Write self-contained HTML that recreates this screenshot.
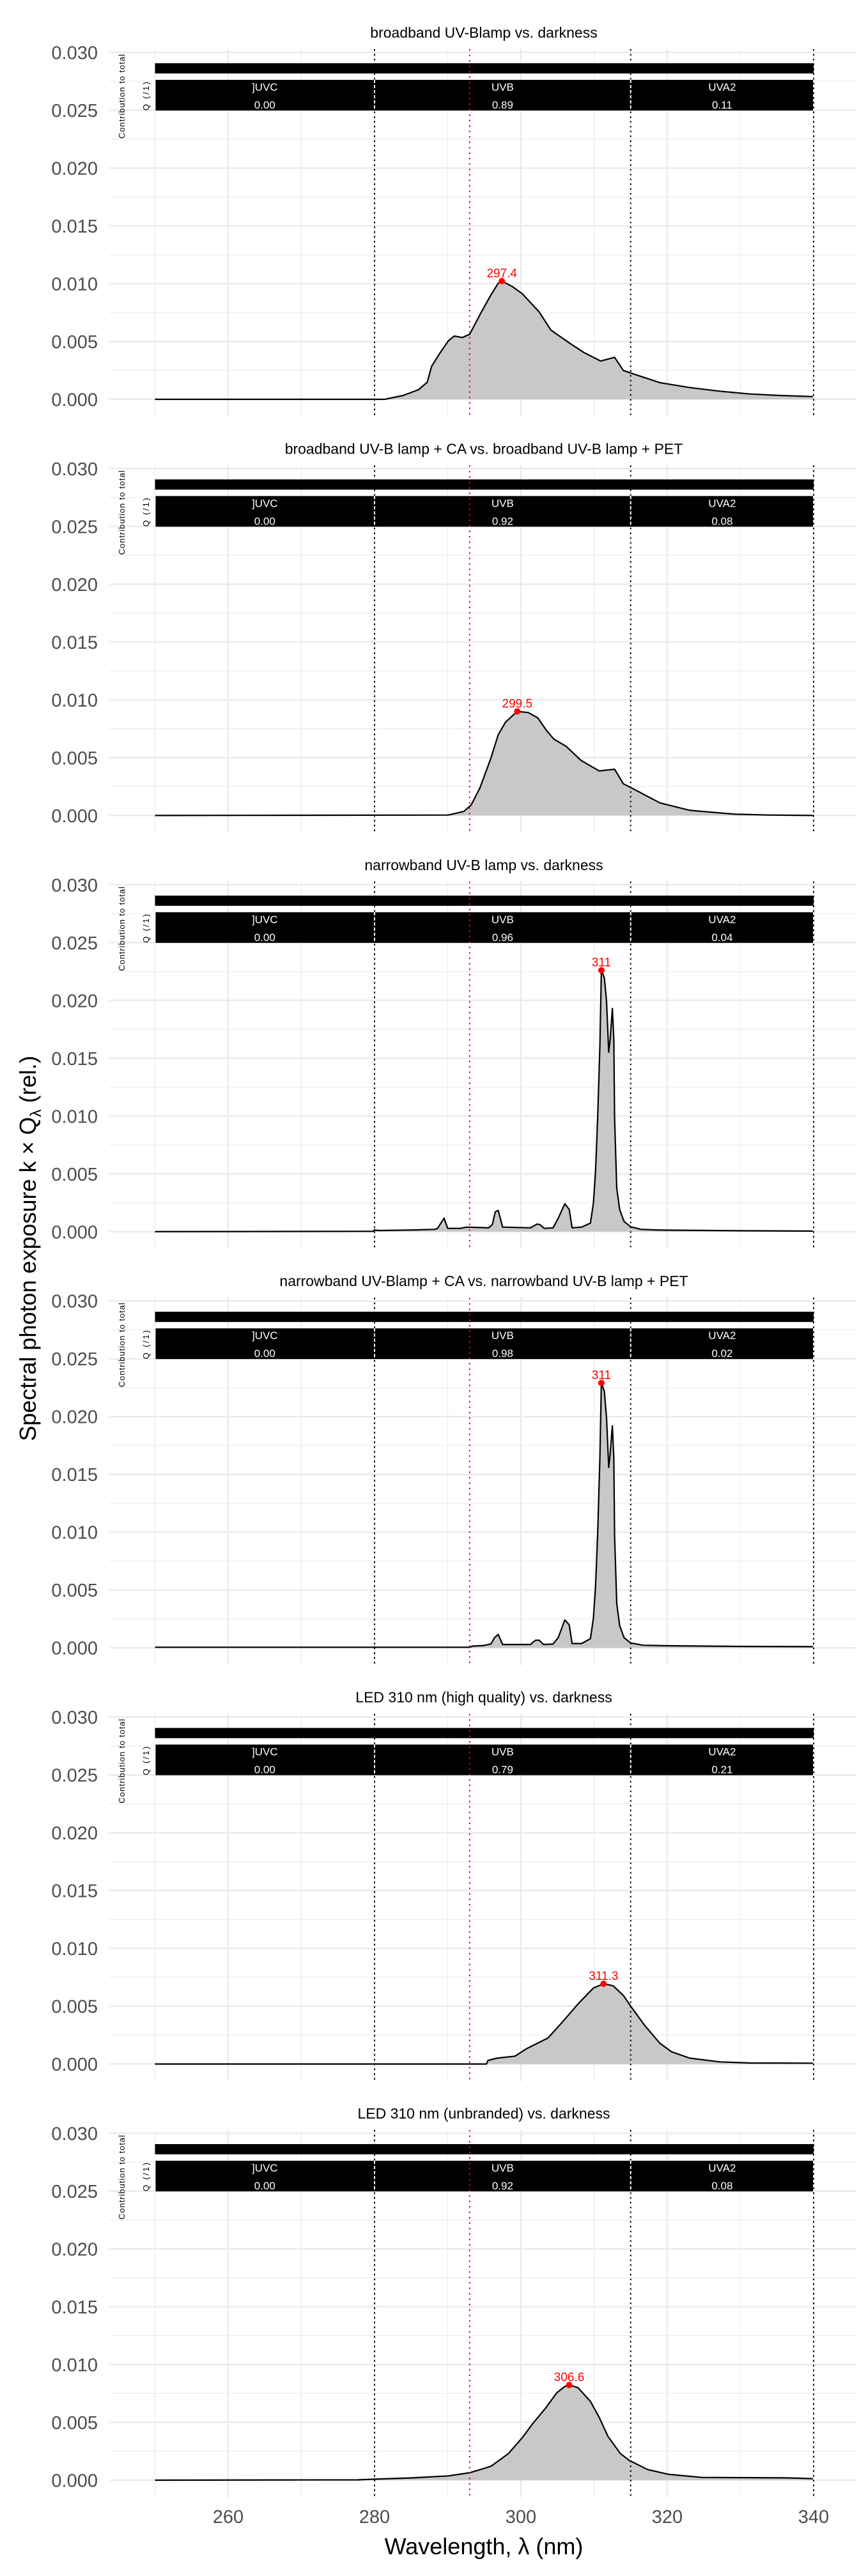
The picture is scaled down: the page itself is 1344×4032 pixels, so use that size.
<!DOCTYPE html>
<html><head><meta charset="utf-8"><style>
html,body{margin:0;padding:0;background:#fff}
svg{display:block}
text{font-family:"Liberation Sans",sans-serif}
</style></head><body>
<svg id="chart" width="1344" height="4032" viewBox="0 0 1344 4032" xmlns="http://www.w3.org/2000/svg">
<text transform="translate(56,1954) rotate(-90)" text-anchor="middle" font-size="36" fill="#000">Spectral photon exposure  k × Q<tspan font-size="24" dy="8">λ</tspan><tspan dy="-8"> (rel.)</tspan></text>
<text x="757" y="3998" text-anchor="middle" font-size="36" fill="#000">Wavelength, λ (nm)</text>
</svg>
<script>
const titles = ["broadband UV-Blamp vs. darkness","broadband UV-B lamp + CA vs. broadband UV-B lamp + PET","narrowband UV-B lamp vs. darkness","narrowband UV-Blamp + CA vs. narrowband UV-B lamp + PET","LED 310 nm (high quality) vs. darkness","LED 310 nm (unbranded) vs. darkness"];
const bandNames = ["]UVC","UVB","UVA2"];
const bandEdges = [250,280,315,340];
const fractions = [["0.00","0.89","0.11"],["0.00","0.92","0.08"],["0.00","0.96","0.04"],["0.00","0.98","0.02"],["0.00","0.79","0.21"],["0.00","0.92","0.08"]];
const peakWl = [297.4,299.5,311,311,311.3,306.6];
const peakLabels = ["297.4","299.5","311","311","311.3","306.6"];
const yTicks = [0,0.005,0.010,0.015,0.020,0.025,0.030];
const yTickLabels = ["0.000","0.005","0.010","0.015","0.020","0.025","0.030"];
const xTicks = [260,280,300,320,340];
const xMinor = [250,270,290,310,330];
const wl1 = [250,281.4,283.9,286.0,287.2,287.8,288.9,290.1,290.9,292.0,293.0,294.6,295.9,296.9,297.4,298.8,300.2,302.5,304.1,306.6,308.6,310.9,312.8,314.0,315.7,319.0,323.1,327.2,331.3,335.4,339.9];
const val1 = [0,0,0.33,0.83,1.47,2.85,3.96,5.06,5.47,5.34,5.62,7.55,9.02,10.04,10.22,9.76,9.12,7.55,5.99,4.88,4.05,3.31,3.63,2.49,2.12,1.44,1.01,0.70,0.46,0.33,0.24];
const wl2 = [250,290.1,292.2,293.2,294.4,295.9,296.9,297.9,299.5,301.0,302.3,303.5,304.5,306.2,308.2,310.7,312.8,314.0,315.7,319.0,323.1,329.3,333.8,339.9];
const val2 = [0,0.04,0.35,0.90,2.38,4.96,6.98,8.08,9.0,8.9,8.45,7.35,6.61,5.97,4.77,3.85,4.0,2.74,2.19,1.09,0.44,0.11,0.04,0];
const wl3 = [250,279.8,280,280.6,285.4,288.2,288.6,289.5,290.0,291.7,292.6,295.6,296.1,296.5,296.9,297.5,301.3,302.2,302.6,303.2,304.4,305.1,306.0,306.6,307.0,308.3,309.5,309.9,310.2,310.5,310.8,311.0,311.4,311.7,312.0,312.2,312.5,312.7,312.8,313.1,313.5,314.1,315.0,316.4,318.5,319.6,330,339.9];
const val3 = [0,0.03,0.15,0.1,0.15,0.2,0.28,1.16,0.28,0.28,0.39,0.33,0.61,1.71,1.84,0.39,0.33,0.66,0.61,0.28,0.33,1.16,2.41,1.93,0.33,0.39,0.74,2.45,5.21,10.0,16.26,22.6,21.97,19.94,15.52,16.63,19.3,16.63,9.82,3.74,1.9,0.88,0.42,0.2,0.15,0.13,0.08,0.05];
const wl4 = [250,293.0,293.4,294.9,295.9,296.4,296.9,297.5,301.3,302.0,302.5,303.1,304.4,305.1,306.0,306.6,307.0,308.3,309.5,309.9,310.2,310.5,310.8,311.0,311.4,311.7,312.0,312.2,312.5,312.7,312.8,313.1,313.5,314.1,315.0,316.7,319.6,330,339.9];
const val4 = [0.05,0.05,0.15,0.2,0.33,0.88,1.16,0.29,0.29,0.66,0.66,0.29,0.33,0.88,2.41,1.99,0.37,0.37,0.79,2.54,5.3,10.0,16.63,22.9,22.2,19.9,15.6,16.8,19.2,16.4,9.7,3.83,1.9,0.88,0.42,0.22,0.18,0.12,0.1];
const wl5 = [250,295.3,295.5,296.7,299.2,300.8,303.7,305.8,307.8,309.9,311.3,312.6,314.0,315.2,316.9,319.0,320.6,323.1,327.2,331.3,339.9];
const val5 = [0,0,0.31,0.5,0.68,1.33,2.25,3.72,5.19,6.57,6.94,6.76,5.93,4.83,3.35,1.79,1.05,0.5,0.18,0.09,0.07];
const wl6 = [250,277.7,280,285.2,290.1,293.0,295.9,298.3,300.2,301.6,303.3,304.9,306.0,306.6,307.8,309.5,310.7,311.9,313.6,314.8,317.3,320.2,324.7,336.3,339.9];
const val6 = [0,0.03,0.09,0.2,0.37,0.64,1.2,2.3,3.68,4.88,6.17,7.55,8.1,8.23,8.0,6.81,5.43,3.78,2.3,1.71,0.92,0.5,0.24,0.2,0.13];
const wls = [wl1,wl2,wl3,wl4,wl5,wl6];
const vals = [val1,val2,val3,val4,val5,val6];

const svg = document.getElementById('chart');
const NS = 'http://www.w3.org/2000/svg';
const PANEL_H = 651.4;
function xs(l){ return 357 + (l - 260) * 11.45; }
function mk(tag, attrs, parent){
  const e = document.createElementNS(NS, tag);
  for (const k in attrs) e.setAttribute(k, attrs[k]);
  (parent || svg).appendChild(e);
  return e;
}
for (let p = 0; p < 6; p++) {
  const T = p * PANEL_H;
  const ys = v => 625 + T - v * 18100;
  const g = mk('g', {});
  
  
  const top = 77 + T, bot = 652 + T;
  // grid
  for (let i = 0; i < yTicks.length - 1; i++) {
    const m = mk('line', {x1:171, x2:1340, y1:ys(yTicks[i] + 0.0025), y2:ys(yTicks[i] + 0.0025), stroke:'#ebebeb', 'stroke-width':1.2}, g);
    
    
  }
  for (const l of xMinor) {
    const m = mk('line', {x1:xs(l), x2:xs(l), y1:top, y2:bot, stroke:'#ebebeb', 'stroke-width':1.2}, g);
    
    
  }
  yTicks.forEach((t, i) => {
    const m = mk('line', {x1:171, x2:1340, y1:ys(t), y2:ys(t), stroke:'#ebebeb', 'stroke-width':2.5}, g);
    
    
    const tl = mk('text', {x:153, y:ys(t) + 10.5, 'text-anchor':'end', 'font-size':29, fill:'#4d4d4d'}, g);
    tl.textContent = yTickLabels[i];
    
    
  });
  for (const l of xTicks) {
    const m = mk('line', {x1:xs(l), x2:xs(l), y1:top, y2:bot, stroke:'#ebebeb', 'stroke-width':2.5}, g);
    
    
  }
  // title
  const tt = mk('text', {x:757, y:59 + T, 'text-anchor':'middle', 'font-size':23, fill:'#000'}, g);
  tt.textContent = titles[p];
  
  
  // area
  const w = wls[p], v = vals[p];
  let d = 'M' + xs(w[0]) + ',' + ys(0);
  for (let i = 0; i < w.length; i++) d += ' L' + xs(w[i]).toFixed(1) + ',' + ys(v[i] / 1000).toFixed(1);
  const area = mk('path', {d: d + ' L' + xs(w[w.length-1]) + ',' + ys(0) + ' Z', fill:'#c8c8c8', stroke:'none'}, g);
  
  
  let dl = '';
  for (let i = 0; i < w.length; i++) dl += (i ? ' L' : 'M') + xs(w[i]).toFixed(1) + ',' + ys(v[i] / 1000).toFixed(1);
  const line = mk('path', {d: dl, fill:'none', stroke:'#000', 'stroke-width':2.2, 'stroke-linejoin':'round'}, g);
  
  
  // header bars
  const b1 = mk('rect', {x:xs(250), y:99 + T, width:xs(340) - xs(250), height:16, fill:'#000'}, g);
  
  
  const b2 = mk('rect', {x:xs(250) + 1, y:125 + T, width:xs(340) - xs(250) - 2, height:48, fill:'#000'}, g);
  
  
  for (let b = 0; b < 3; b++) {
    const cx = (xs(bandEdges[b]) + xs(bandEdges[b+1])) / 2;
    const n = mk('text', {x:cx, y:142 + T, 'text-anchor':'middle', 'font-size':17, fill:'#fff'}, g);
    n.textContent = bandNames[b];
    
    
    const f = mk('text', {x:cx, y:170 + T, 'text-anchor':'middle', 'font-size':17, fill:'#fff'}, g);
    f.textContent = fractions[p][b];
    
    
  }
  const c1 = mk('text', {transform:'translate(195,' + (217 + T) + ') rotate(-90)', 'font-size':13, fill:'#000', textLength:132}, g);
  c1.textContent = 'Contribution to total';
  
  
  const c2 = mk('text', {transform:'translate(233,' + (173 + T) + ') rotate(-90)', 'font-size':13, fill:'#000', textLength:45}, g);
  c2.textContent = 'Q (/1)';
  
  
  // boundary lines
  for (const l of [280, 315, 340]) {
    const bl = mk('line', {x1:xs(l), x2:xs(l), y1:top, y2:bot, stroke:'#000', 'stroke-width':2, 'stroke-dasharray':'2.5 5'}, g);
    
    
    if (l < 340) {
      const wl = mk('line', {x1:xs(l), x2:xs(l), y1:125 + T, y2:173 + T, stroke:'#fff', 'stroke-width':2, 'stroke-dasharray':'5 3'}, g);
      
      
    }
  }
  const rl = mk('line', {x1:xs(293), x2:xs(293), y1:top, y2:bot, stroke:'#ff0000', 'stroke-width':2, 'stroke-dasharray':'2.5 6'}, g);
  
  
  // peak
  let pv = 0;
  for (let i = 0; i < w.length; i++) if (v[i] > pv) pv = v[i];
  const pt = mk('circle', {cx:xs(peakWl[p]), cy:ys(pv / 1000), r:5, fill:'#ff0000'}, g);
  
  
  const pl = mk('text', {x:xs(peakWl[p]), y:ys(pv / 1000) - 6, 'text-anchor':'middle', 'font-size':19, fill:'#ff0000'}, g);
  pl.textContent = peakLabels[p];
  
  
}
xTicks.forEach(l => {
  const t = mk('text', {x:xs(l), y:3949, 'text-anchor':'middle', 'font-size':29, fill:'#4d4d4d'});
  t.textContent = String(l);
  
  
});
</script>
</body></html>
